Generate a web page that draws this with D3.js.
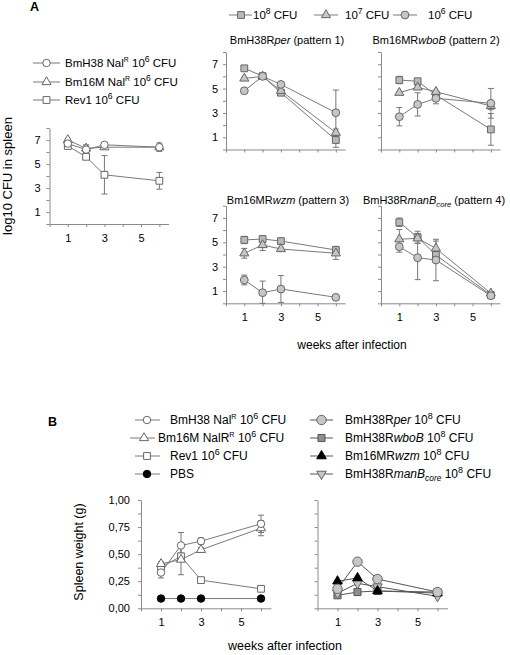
<!DOCTYPE html>
<html><head><meta charset="utf-8">
<script src="https://cdn.jsdelivr.net/npm/d3@7"></script>
<style>
body{margin:0;background:#fff}
svg{display:block}
text{font-family:"Liberation Sans",Arial,sans-serif;fill:#000}
</style>
</head><body><svg id="c" width="510" height="655"></svg>
<script>
// ---------- DATA ----------
const weeks = [1, 2, 3, 6];
const xTickValues = [0, 1, 2, 3, 4, 5, 6];
const xTickLabels = [1, 3, 5];
const cfuTicks = [0, 1, 2, 3, 4, 5, 6, 7, 8];
const cfuTickLabels = [1, 3, 5, 7];
const weightTicks = [0, 0.125, 0.25, 0.375, 0.5, 0.625, 0.75, 0.875, 1];
const weightTickLabels = [0, 0.25, 0.5, 0.75, 1];

// Panel A, left: log10 CFU in spleen, 10^6 CFU controls
const h38Nal = [6.7, 6.2, 6.6, 6.4];
const h38NalErr = [0.15, 0.3, 0.1, 0.15];
const m16Nal = [7.0, 6.3, 6.4, 6.4];
const m16NalErr = [0.1, 0.3, 0.15, 0.35];
const rev1 = [6.5, 5.6, 4.1, 3.6];
const rev1Err = [0.1, 0.2, 1.6, 0.7];

// Panel A, pattern 1: BmH38Rper
const p1Cfu8 = [6.66, 6.02, 4.66, 0.78];
const p1Cfu8Err = [0.1, 0.1, 0.1, 0.6];
const p1Cfu7 = [5.83, 6.0, 4.82, 1.38];
const p1Cfu7Err = [0.1, 0.1, 0.1, 0.3];
const p1Cfu6 = [4.82, 6.0, 5.34, 3.02];
const p1Cfu6Err = [0.1, 0.1, 0.1, 1.86];
// pattern 2: Bm16MRwboB
const p2Cfu8 = [5.7, 5.6, 4.47, 1.65];
const p2Cfu8Err = [0.3, 0.2, 0.1, 1.3];
const p2Cfu7 = [4.66, 5.1, 4.74, 3.57];
const p2Cfu7Err = [0.1, 0.15, 0.1, 0.3];
const p2Cfu6 = [2.69, 3.7, 4.2, 3.79];
const p2Cfu6Err = [0.75, 0.95, 0.45, 1.22];
// pattern 3: Bm16MRwzm
const p3Cfu8 = [5.19, 5.27, 5.1, 4.37];
const p3Cfu8Err = [0.3, 0.15, 0.1, 0.3];
const p3Cfu7 = [4.1, 4.78, 4.45, 4.1];
const p3Cfu7Err = [0.4, 0.45, 0.15, 0.5];
const p3Cfu6 = [1.91, 0.87, 1.17, 0.49];
const p3Cfu6Err = [0.4, 0.95, 1.1, 0.05];
// pattern 4: BmH38RmanBcore
const p4Cfu8 = [6.64, 5.41, 3.96, 0.68];
const p4Cfu8Err = [0.35, 0.5, 0.3, 0.1];
const p4Cfu7 = [5.25, 5.33, 4.5, 0.82];
const p4Cfu7Err = [0.8, 0.4, 0.6, 0.1];
const p4Cfu6 = [4.64, 3.74, 3.55, 0.62];
const p4Cfu6Err = [0.45, 1.8, 1.7, 0.1];

// Panel B, left: spleen weight (g)
const h38NalW = [0.33, 0.58, 0.62, 0.78];
const h38NalWErr = [0.05, 0.12, 0.03, 0.08];
const m16NalW = [0.41, 0.45, 0.54, 0.74];
const m16NalWErr = [0.02, 0.14, 0.02, 0.07];
const rev1W = [0.38, 0.48, 0.26, 0.18];
const rev1WErr = [0.02, 0.03, 0.01, 0.02];
const pbsW = [0.09, 0.09, 0.09, 0.09];
const pbsWErr = [0, 0, 0, 0];
// Panel B, right
const perW = [0.18, 0.43, 0.27, 0.15];
const wboBW = [0.12, 0.15, 0.16, 0.15];
const wzmW = [0.25, 0.28, 0.16, 0.14];
const manBW = [0.14, 0.23, 0.20, 0.11];
const zeroErr = [0, 0, 0, 0];

// ---------- STYLE ----------
const AX = "#8a8a8a", LN = "#7a7a7a", MS = "#666";
const STY = {
  oCircle: {type: d3.symbolCircle, size: 44, fill: "#fff", stroke: MS},
  oTri: {type: d3.symbolTriangle, size: 36, fill: "#fff", stroke: MS},
  oSquare: {type: d3.symbolSquare, size: 46, fill: "#fff", stroke: MS},
  gSquare: {type: d3.symbolSquare, size: 46, fill: "#b9b9b9", stroke: MS},
  gTri: {type: d3.symbolTriangle, size: 36, fill: "#c6c6c6", stroke: MS},
  gCircle: {type: d3.symbolCircle, size: 48, fill: "#c6c6c6", stroke: MS},
  bCircle: {type: d3.symbolCircle, size: 44, fill: "#000", stroke: "#000"},
  bgCircle: {type: d3.symbolCircle, size: 70, fill: "#c6c6c6", stroke: MS},
  dSquare: {type: d3.symbolSquare, size: 50, fill: "#8e8e8e", stroke: "#555"},
  bTri: {type: d3.symbolTriangle, size: 40, fill: "#000", stroke: "#000"},
  gDown: {type: d3.symbolTriangle, size: 40, fill: "#c6c6c6", stroke: MS, rot: 180}
};

const svg = d3.select("#c");

function drawSym(g, x, y, s) {
  g.append("path")
    .attr("d", d3.symbol().type(s.type).size(s.size)())
    .attr("transform", `translate(${x},${y})` + (s.rot ? ` rotate(${s.rot})` : ""))
    .attr("fill", s.fill).attr("stroke", s.stroke).attr("stroke-width", 1);
}

function rich(g, x, y, parts, fs, anchor) {
  const t = g.append("text").attr("x", x).attr("y", y)
    .attr("font-size", fs).attr("text-anchor", anchor || "start");
  let shift = 0;
  parts.forEach(p => {
    const sp = t.append("tspan").text(p.t);
    let target = 0, size = fs;
    if (p.sup) { target = -fs * 0.42; size = fs * (p.small ? 0.6 : 0.75); }
    if (p.sub) { target = fs * 0.25; size = fs * 0.7; }
    sp.attr("font-size", size);
    if (target !== shift) { sp.attr("dy", target - shift); shift = target; }
    if (p.it) sp.attr("font-style", "italic");
  });
  return t;
}

function panel(c) {
  const g = svg.append("g");
  const x = d3.scaleLinear().domain([0, 6.5]).range([c.l, c.r]);
  const y = d3.scaleLinear().domain(c.yDom).range([c.b, c.t]);
  const xa = d3.axisBottom(x).tickValues(xTickValues).tickSize(3).tickSizeOuter(0).tickPadding(7)
    .tickFormat(d => c.showX && xTickLabels.includes(d) ? d : "");
  const ya = d3.axisLeft(y).tickValues(c.yTicks).tickSize(3).tickSizeOuter(0).tickPadding(c.yPad)
    .tickFormat(d => c.showY && c.yLabels.includes(d) ? c.fmt(d) : "");
  const gx = g.append("g").attr("transform", `translate(0,${c.b})`).call(xa);
  const gy = g.append("g").attr("transform", `translate(${c.l},0)`).call(ya);
  [gx, gy].forEach(a => {
    a.select(".domain").attr("stroke", AX);
    a.selectAll(".tick line").attr("stroke", AX);
    a.selectAll(".tick text").attr("font-size", 11).attr("fill", "#000")
      .attr("font-family", '"Liberation Sans",Arial,sans-serif');
  });
  const line = d3.line().x((d, i) => x(weeks[i])).y(d => y(d));
  c.series.forEach(s => {
    g.append("path").attr("d", line(s.v)).attr("fill", "none").attr("stroke", s.lc || LN).attr("stroke-width", 1);
  });
  c.series.forEach(s => {
    s.v.forEach((v, i) => {
      const e = s.e[i];
      if (!e) return;
      const xx = x(weeks[i]);
      const lo = Math.max(c.yDom[0], v - e), hi = v + e;
      g.append("line").attr("x1", xx).attr("x2", xx).attr("y1", y(lo)).attr("y2", y(hi)).attr("stroke", "#777");
      [lo, hi].forEach(q => g.append("line").attr("x1", xx - 3).attr("x2", xx + 3).attr("y1", y(q)).attr("y2", y(q)).attr("stroke", "#777"));
    });
  });
  c.series.forEach(s => {
    s.v.forEach((v, i) => drawSym(g, x(weeks[i]), y(v), s.st));
  });
}

const cfuFmt = d => d;
const wFmt = d => d3.format(".2f")(d).replace(".", ",");

// Panel A left
panel({l: 49.5, r: 168.5, t: 128, b: 224, yDom: [0, 8], yTicks: cfuTicks, yLabels: cfuTickLabels, fmt: cfuFmt, yPad: 6,
  showX: true, showY: true,
  series: [
    {v: rev1, e: rev1Err, st: STY.oSquare},
    {v: m16Nal, e: m16NalErr, st: STY.oTri},
    {v: h38Nal, e: h38NalErr, st: STY.oCircle}
  ]});
// pattern panels
const pTop = {t: 52, b: 149.5}, pBot = {t: 205.7, b: 303.3};
const pL = {l: 226, r: 345}, pR = {l: 381, r: 500};
function pSeries(a8, e8, a7, e7, a6, e6) {
  return [{v: a8, e: e8, st: STY.gSquare}, {v: a7, e: e7, st: STY.gTri}, {v: a6, e: e6, st: STY.gCircle}];
}
panel({...pL, ...pTop, yDom: [0, 8], yTicks: cfuTicks, yLabels: cfuTickLabels, fmt: cfuFmt, yPad: 5, showX: false, showY: true,
  series: pSeries(p1Cfu8, p1Cfu8Err, p1Cfu7, p1Cfu7Err, p1Cfu6, p1Cfu6Err)});
panel({...pR, ...pTop, yDom: [0, 8], yTicks: cfuTicks, yLabels: cfuTickLabels, fmt: cfuFmt, yPad: 5, showX: false, showY: false,
  series: pSeries(p2Cfu8, p2Cfu8Err, p2Cfu7, p2Cfu7Err, p2Cfu6, p2Cfu6Err)});
panel({...pL, ...pBot, yDom: [0, 8], yTicks: cfuTicks, yLabels: cfuTickLabels, fmt: cfuFmt, yPad: 5, showX: true, showY: true,
  series: pSeries(p3Cfu8, p3Cfu8Err, p3Cfu7, p3Cfu7Err, p3Cfu6, p3Cfu6Err)});
panel({...pR, ...pBot, yDom: [0, 8], yTicks: cfuTicks, yLabels: cfuTickLabels, fmt: cfuFmt, yPad: 5, showX: true, showY: false,
  series: pSeries(p4Cfu8, p4Cfu8Err, p4Cfu7, p4Cfu7Err, p4Cfu6, p4Cfu6Err)});

// Panel B
const bY = {t: 500, b: 608.3};
panel({l: 141, r: 271, ...bY, yDom: [0, 1], yTicks: weightTicks, yLabels: weightTickLabels, fmt: wFmt, yPad: 8, showX: true, showY: true,
  series: [
    {v: pbsW, e: pbsWErr, st: STY.bCircle},
    {v: rev1W, e: rev1WErr, st: STY.oSquare},
    {v: m16NalW, e: m16NalWErr, st: STY.oTri},
    {v: h38NalW, e: h38NalWErr, st: STY.oCircle}
  ]});
panel({l: 317.5, r: 447.5, ...bY, yDom: [0, 1], yTicks: weightTicks, yLabels: weightTickLabels, fmt: wFmt, yPad: 8, showX: true, showY: false,
  series: [
    {v: wboBW, e: zeroErr, st: STY.dSquare, lc: "#555"},
    {v: manBW, e: zeroErr, st: STY.gDown, lc: "#555"},
    {v: wzmW, e: zeroErr, st: STY.bTri, lc: "#555"},
    {v: perW, e: zeroErr, st: STY.bgCircle, lc: "#555"}
  ]});

// ---------- TEXT / LEGENDS ----------
const T = svg.append("g");
T.append("text").attr("x", 30).attr("y", 11).attr("font-size", 12.5).attr("font-weight", "bold").text("A");
T.append("text").attr("x", 48).attr("y", 426).attr("font-size", 12.5).attr("font-weight", "bold").text("B");

function legendRow(x1, x2, mx, y, st, tx, parts, fs, lc) {
  T.append("line").attr("x1", x1).attr("x2", x2).attr("y1", y).attr("y2", y).attr("stroke", lc || LN);
  drawSym(T, mx, y, st);
  rich(T, tx, y + fs * 0.36, parts, fs);
}
// A left legend
legendRow(33, 60, 46.5, 63, STY.oCircle, 65, [{t: "BmH38 Nal"}, {t: "R", sup: true, small: true}, {t: " 10"}, {t: "6", sup: true}, {t: " CFU"}], 11.5);
legendRow(33, 60, 46.5, 82, STY.oTri, 65, [{t: "Bm16M Nal"}, {t: "R", sup: true, small: true}, {t: " 10"}, {t: "6", sup: true}, {t: " CFU"}], 11.5);
legendRow(33, 60, 46.5, 100, STY.oSquare, 65, [{t: "Rev1 10"}, {t: "6", sup: true}, {t: " CFU"}], 11.5);
// A top legend
legendRow(229, 252, 241, 15, STY.gSquare, 253, [{t: "10"}, {t: "8", sup: true}, {t: " CFU"}], 11.5);
legendRow(314, 338, 326, 15, STY.gTri, 345, [{t: "10"}, {t: "7", sup: true}, {t: " CFU"}], 11.5);
legendRow(393, 417, 405, 15, STY.gCircle, 428, [{t: "10"}, {t: "6", sup: true}, {t: " CFU"}], 11.5);
// pattern titles
rich(T, 287, 44, [{t: "BmH38R"}, {t: "per", it: true}, {t: " (pattern 1)"}], 11, "middle");
rich(T, 436, 44, [{t: "Bm16MR"}, {t: "wboB", it: true}, {t: " (pattern 2)"}], 11, "middle");
rich(T, 288, 204, [{t: "Bm16MR"}, {t: "wzm", it: true}, {t: " (pattern 3)"}], 11, "middle");
rich(T, 434, 204, [{t: "BmH38R"}, {t: "manB", it: true}, {t: "core", it: true, sub: true}, {t: " (pattern 4)"}], 11, "middle");
// axis titles
T.append("text").attr("x", 352).attr("y", 349).attr("font-size", 12).attr("text-anchor", "middle").text("weeks after infection");
T.append("text").attr("transform", "translate(12,176) rotate(-90)").attr("font-size", 13).attr("text-anchor", "middle").text("log10 CFU in spleen");
T.append("text").attr("transform", "translate(83,552) rotate(-90)").attr("font-size", 12.5).attr("text-anchor", "middle").text("Spleen weight (g)");
T.append("text").attr("x", 285).attr("y", 650).attr("font-size", 12.5).attr("text-anchor", "middle").text("weeks after infection");
// B legends
legendRow(135, 160, 147, 420, STY.oCircle, 170, [{t: "BmH38 Nal"}, {t: "R", sup: true, small: true}, {t: " 10"}, {t: "6", sup: true}, {t: " CFU"}], 12);
legendRow(130, 155, 144, 438, STY.oTri, 158, [{t: "Bm16M NalR"}, {t: "R", sup: true, small: true}, {t: " 10"}, {t: "6", sup: true}, {t: " CFU"}], 12);
legendRow(135, 160, 147, 456, STY.oSquare, 170, [{t: "Rev1 10"}, {t: "6", sup: true}, {t: " CFU"}], 12);
legendRow(135, 160, 147, 474, STY.bCircle, 170, [{t: "PBS"}], 12);
legendRow(310, 333, 321.5, 420, STY.bgCircle, 345, [{t: "BmH38R"}, {t: "per", it: true}, {t: " 10"}, {t: "8", sup: true}, {t: " CFU"}], 12, "#555");
legendRow(310, 333, 321.5, 438, STY.dSquare, 345, [{t: "BmH38R"}, {t: "wboB", it: true}, {t: " 10"}, {t: "8", sup: true}, {t: " CFU"}], 12, "#555");
legendRow(310, 333, 321.5, 456, STY.bTri, 345, [{t: "Bm16MR"}, {t: "wzm", it: true}, {t: " 10"}, {t: "8", sup: true}, {t: " CFU"}], 12, "#555");
legendRow(310, 333, 321.5, 474, STY.gDown, 345, [{t: "BmH38R"}, {t: "manB", it: true}, {t: "core", it: true, sub: true}, {t: " 10"}, {t: "8", sup: true}, {t: " CFU"}], 12, "#555");
</script>
</body></html>
